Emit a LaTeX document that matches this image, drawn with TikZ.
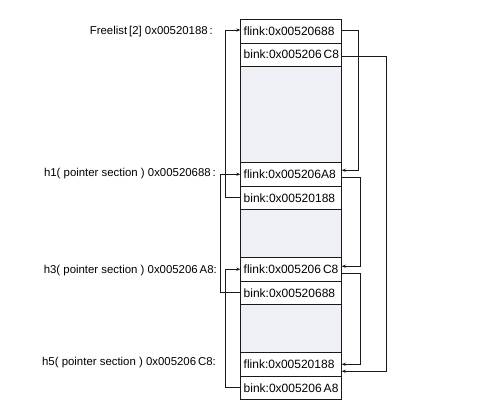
\documentclass[tikz,border=0pt]{standalone}
\usepackage{fontspec}
\setmainfont{Liberation Sans}
\usetikzlibrary{arrows.meta}
\definecolor{cellgray}{HTML}{EEF0F5}
\begin{document}
\begin{tikzpicture}[x=1bp,y=-1bp,
  cell/.style={draw=black!90, line width=0.8bp, minimum width=100.6bp, inner xsep=3bp,
    text width=94.6bp, align=left, inner ysep=0pt, font=\fontsize{12bp}{13bp}\selectfont},
  c1/.style={cell, minimum height=23.5bp},
  gray/.style={cell, fill=cellgray},
  lbl/.style={anchor=east, inner sep=0pt, font=\fontsize{11.4bp}{13bp}\selectfont},
  link/.style={draw=black!90, line width=0.8bp, -{Stealth[length=4bp,width=3.2bp]}}]
\useasboundingbox (0,0) rectangle (485,408);
% cells
\node[c1] (f0) at (291,31.25) {flink:0x00520688};
\node[c1, minimum height=23bp] (b0) at (291,54.5) {bink:0x005206\,C8};
\node[gray, minimum height=96.5bp] (g1) at (291,114.25) {};
\node[c1] (h1f) at (291,174.25) {flink:0x005206A8};
\node[c1] (h1b) at (291,197.75) {bink:0x00520188};
\node[gray, minimum height=48bp] (g2) at (291,233.5) {};
\node[c1] (h3f) at (291,269.25) {flink:0x005206\,C8};
\node[c1] (h3b) at (291,292.75) {bink:0x00520688};
\node[gray, minimum height=48bp] (g3) at (291,328.5) {};
\node[c1] (h5f) at (291,364.25) {flink:0x00520188};
\node[c1] (h5b) at (291,387.75) {bink:0x005206\,A8};
% labels
\node[lbl] (l0) at (213,32) {Freelist\,[2] 0x00520188\,:};
\node[lbl] (l1) at (216,174) {h1( pointer section ) 0x00520688\,:};
\node[lbl] (l3) at (217,271) {h3( pointer section ) 0x005206\,A8:};
\node[lbl] (l5) at (216,362.5) {h5( pointer section ) 0x005206\,C8:};
% left connectors
\draw[link] (h1b.west) -- ++(-15,0) |- ([yshift=1.2bp]f0.west);
\draw[link] (h3b.west) -- ++(-20,0) |- (h1f.west);
\draw[link] (h5b.west) -- ++(-15,0) |- (h3f.west);
% right connectors
\draw[link] ([yshift=1.2bp]f0.east) -- ++(16.5,0) |- ([yshift=4bp]h1f.east);
\draw[link] ([yshift=-3bp]h1f.east) -- ++(18.5,0) |- ([yshift=3bp]h3f.east);
\draw[link] ([yshift=-4bp]h3f.east) -- ++(18.5,0) |- (h5f.east);
\draw[link] ([yshift=-1.5bp]b0.east) -- ++(45,0) |- ([yshift=-7bp]h5f.east);
\end{tikzpicture}
\end{document}
